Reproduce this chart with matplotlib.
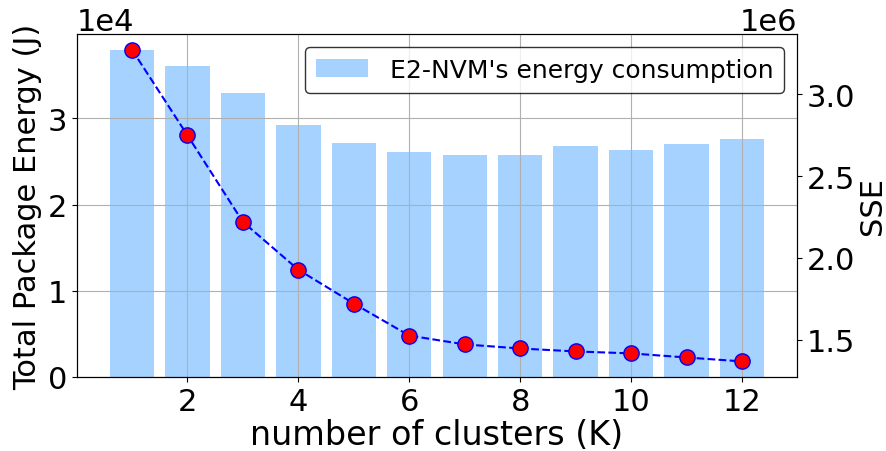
import numpy as np
import matplotlib.pyplot as plt

# number of clusters tried
k = [1, 2, 3, 4, 5, 6, 7, 8, 9, 10, 11, 12]
# total package energy (J) per run
energy = [37900, 36100, 32900, 29200, 27100, 26100, 25700, 25700, 26800, 26300, 27000, 27600]
# sum of squared errors per K
sse = [3.274e6, 2.75e6, 2.22e6, 1.927e6, 1.72e6, 1.524e6, 1.47e6, 1.445e6, 1.427e6, 1.415e6, 1.39e6, 1.366e6]

plt.rcParams['font.size'] = 22

fig, ax1 = plt.subplots(figsize=(8.87, 4.52), dpi=100)
fig.subplots_adjust(left=77/887, right=797/887, top=1-35/452, bottom=1-378/452)

ax1.bar(k, energy, width=0.8, color='dodgerblue', alpha=0.4, label="E2-NVM's energy consumption")
ax1.set_xlabel('number of clusters (K)', fontsize=24, labelpad=2)
ax1.set_ylabel('Total Package Energy (J)')
ax1.ticklabel_format(axis='y', style='sci', scilimits=(0, 0))
ax1.grid(True)
ax1.legend(loc='upper right', fontsize=18, edgecolor='black', handletextpad=0.85,
           handlelength=2.1, borderpad=0.45)

ax2 = ax1.twinx()
ax2.plot(k, sse, 'b--', marker='o', markersize=11, markerfacecolor='red', markeredgecolor='blue')
ax2.set_ylabel('SSE', labelpad=2)
ax2.ticklabel_format(axis='y', style='sci', scilimits=(0, 0))

plt.savefig('out.png')
